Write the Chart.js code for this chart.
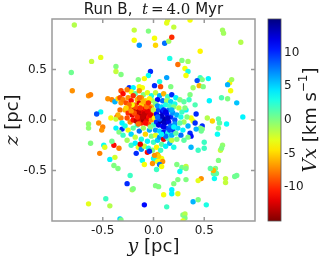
<!DOCTYPE html>
<html>
<head>
<meta charset="utf-8">
<script src="https://cdn.jsdelivr.net/npm/chart.js@4.4.1/dist/chart.umd.min.js"></script>
<style>
  html, body { margin: 0; padding: 0; background: #fff; }
  #wrap { position: relative; width: 327px; height: 263px; }
  #main { position: absolute; left: 0; top: 0; }
  #cbar { position: absolute; left: 255px; top: 0; }
</style>
</head>
<body>
<div id="wrap">
  <canvas id="main" width="327" height="263"></canvas>
  <canvas id="cbar" width="72" height="263"></canvas>
</div>
<script>
// star positions [y (pc), z (pc), Vx (km/s)]
const outerTop = [
  [-0.78,0.94,-1.5],[0.13,0.96,-3],[0.20,0.92,-2],[0.14,0.99,-3],[-0.19,0.89,-2],[-0.05,0.88,0],
  [-0.19,0.79,-3.5],[-0.14,0.74,7],[0.01,0.81,-3.5],[0.02,0.74,-5],[0.11,0.76,8],[0.15,0.78,-1],
  [0.18,0.82,-10],[0.36,0.99,-3.5],[0.68,0.89,-1],[0.69,0.86,-1],[0.86,0.77,-1.5],[0.46,0.68,-4],
  [0.16,0.61,3],[0.28,0.59,0],[0.24,0.55,-8],[0.31,0.51,-3.5],[0.34,0.58,-1],[0.34,0.48,3],
  [0.32,0.44,-3.5],[-0.61,0.58,-2],[-0.52,0.62,-3],[-0.37,0.53,0],[-0.37,0.48,-2],[-0.32,0.45,0],
  [-0.81,0.47,0.5],[-0.03,0.48,10],[-0.05,0.44,3.5],[-0.09,0.41,-3.5],[-0.15,0.40,0],[0.06,0.38,3],
  [0.13,0.42,6.5],[0.46,0.42,2],[0.48,0.40,0],[0.54,0.41,4],[0.43,0.39,9],[0.75,0.37,-4],
  [0.77,0.40,-1],[0.73,0.35,6]
];
const outerRight = [
  [0.45,0.34,-6],[0.39,0.32,-1],[0.49,0.33,0],[0.76,0.29,-3.5],[0.36,0.25,0],[0.35,0.20,2],
  [0.55,0.19,4],[0.67,0.22,1.5],[0.73,0.21,0],[0.82,0.17,5.5],[0.41,0.15,1.5],[0.88,0.03,4],
  [0.42,0.06,10],[0.39,-0.01,-3],[0.37,0.02,-3.5],[0.53,0.02,-1.5],[0.58,-0.01,-5],[0.64,0.01,1],
  [0.65,-0.03,1],[0.72,-0.04,3.5],[0.41,-0.03,10],[0.48,-0.06,10],[0.46,-0.08,0],[0.48,-0.09,0],
  [0.47,-0.11,0.5],[0.42,-0.09,6],[0.36,-0.13,10],[0.37,-0.16,11],[0.64,-0.08,0],[0.63,-0.14,3.5],
  [0.50,-0.22,2],[0.68,-0.25,-0.5],[0.37,-0.27,6],[0.50,-0.28,2],[0.66,-0.30,-2],[0.44,-0.30,2],
  [0.67,-0.28,0]
];
const outerLeft = [
  [-0.80,0.29,-7],[-0.64,0.24,-7],[-0.62,0.25,-7.5],[-0.45,0.21,-7],[-0.41,0.20,-7.5],[-0.38,0.18,6],
  [-0.35,0.21,-5],[-0.52,0.08,3.5],[-0.56,0.06,9],[-0.64,-0.04,-0.5],[-0.64,-0.08,-0.5],[-0.54,-0.03,-7],
  [-0.50,-0.07,-7.5],[-0.51,-0.10,-7],[-0.42,0.02,-3.5],[-0.36,0.03,-11],[-0.37,0.01,-2],[-0.37,-0.08,4],
  [-0.62,-0.23,0],[-0.49,-0.25,3.5],[-0.48,-0.27,-3],[-0.39,-0.25,-11],[-0.41,-0.21,0.5],[-0.53,-0.33,-7.5]
];
const outerBottom = [
  [-0.43,-0.39,4],[-0.38,-0.37,-2.5],[-0.39,-0.45,0],[-0.35,-0.48,0],[-0.47,-0.78,2],[-0.64,-0.83,-3],
  [-0.43,-0.85,-1.5],[-0.33,-0.98,5],[-0.32,-0.99,0],[0.00,-0.38,3.5],[0.02,-0.39,3],[0.08,-0.38,-3.5],
  [0.09,-0.41,-7],[0.04,-0.41,-3.5],[-0.01,-0.43,-7],[0.06,-0.44,8],[0.08,-0.46,-3.5],[0.03,-0.49,2],
  [-0.11,-0.40,3.5],[-0.09,-0.44,-3.5],[-0.23,-0.55,2],[-0.26,-0.63,10],[-0.21,-0.69,-1],[-0.20,-0.68,0],
  [0.02,-0.65,0],[0.05,-0.66,0],[-0.09,-0.84,11],[0.13,-0.86,2],[0.10,-0.74,-3.5],[0.18,-0.69,4],
  [0.18,-0.73,4],[0.24,-0.73,-3],[0.20,-0.63,0],[0.24,-0.59,0],[0.23,-0.44,0],[0.28,-0.47,0.5],
  [0.32,-0.46,-2],[0.26,-0.51,3.5],[0.29,-0.94,0],[0.31,-0.93,-1.5],[0.39,-0.81,6],[0.44,-0.79,0],
  [0.52,-0.84,3],[0.61,-0.48,0],[0.59,-0.53,1],[0.62,-0.53,1],[0.59,-0.50,-6],[0.47,-0.58,-7],
  [0.44,-0.60,-3],[0.56,-0.48,1],[0.60,-0.58,3.5],[0.71,-0.62,-2],[0.71,-0.58,-2],[0.80,-0.56,0.5],
  [0.82,-0.55,0.5],[0.64,-0.40,0],[0.32,-0.59,0],[0.32,-0.48,0],[0.31,-0.97,0],[0.29,-1.0,-3]
];
const innerRing = [
  [-0.24,0.32,10],[-0.20,0.32,4],[-0.14,0.33,-3.5],[-0.11,0.32,-3.5],[0.01,0.34,10],[0.07,0.33,-9],
  [0.17,0.33,0],[-0.32,0.29,-9],[-0.32,0.17,-7],[-0.32,0.02,-7.5],[-0.31,-0.09,10],[-0.34,-0.28,-7.5],
  [0.34,-0.06,6],[0.32,0.10,4],[0.33,0.03,0],[0.34,-0.17,0],[-0.17,-0.33,10],[-0.06,-0.32,-11],
  [0.04,-0.34,-6],[0.05,-0.36,-5],[0.01,-0.35,-7],
  [-0.22,0.28,-3.5],[-0.18,0.26,1],[-0.14,0.29,-7],[-0.10,0.25,0],[-0.06,0.27,-3],[-0.02,0.24,3],
  [0.02,0.27,-2],[0.06,0.24,6],[0.10,0.26,-6],[0.14,0.23,2],[0.18,0.25,10],[0.22,0.22,4],
  [0.26,0.20,0],[0.30,0.18,1],[-0.30,0.26,-11],[-0.26,0.30,-7.5],[0.04,0.20,11],[0.09,0.19,8],
  [0.13,0.19,-1],[0.17,0.18,5],[0.21,0.16,3],[-0.01,0.19,-1],
  [-0.28,-0.06,3],[-0.25,-0.10,-3.5],[-0.22,-0.14,5],[-0.20,-0.08,1],[-0.18,-0.17,-2],[-0.16,-0.05,2],
  [-0.14,-0.11,8],[-0.12,-0.19,3],[-0.10,-0.08,-1],[-0.08,-0.14,-5],[-0.06,-0.21,4],[-0.04,-0.10,6],
  [-0.02,-0.16,0],[0.00,-0.22,2],[0.02,-0.15,-3],[0.04,-0.20,5],[0.06,-0.17,7],[0.08,-0.24,1],
  [0.10,-0.19,-12],[0.12,-0.26,4],[0.14,-0.18,2],[0.16,-0.23,6],[0.18,-0.20,-2],[0.20,-0.27,3],
  [0.23,-0.19,0],[-0.26,-0.20,-1],[-0.22,-0.25,2],[-0.18,-0.23,4],[-0.15,-0.27,-3],[-0.12,-0.29,7],
  [-0.09,-0.26,-2],[-0.05,-0.28,3],[-0.01,-0.30,0],[0.03,-0.27,-4],[0.07,-0.30,2],[-0.13,-0.24,-12],
  [-0.04,-0.31,10],
  [0.28,0.08,2],[0.30,-0.02,-1],[0.29,-0.10,4],[0.27,-0.15,8],[0.31,0.12,0],[0.30,-0.20,1],
  [-0.33,0.10,-8],[-0.35,0.05,-6],[-0.31,-0.03,4],[-0.34,-0.12,0],[-0.30,-0.15,2],[-0.33,0.22,-9]
];
const redCore = [
  [-0.30,0.20,-7.5],[-0.27,0.17,-9],[-0.25,0.22,-7],[-0.22,0.19,-11],[-0.20,0.24,-10],[-0.18,0.15,-8],
  [-0.16,0.20,-6],[-0.14,0.17,-12],[-0.12,0.22,-7],[-0.10,0.14,-9],[-0.08,0.19,-5],[-0.06,0.16,-8],
  [-0.04,0.21,-4],[-0.02,0.13,-6],[-0.28,0.10,-6],[-0.25,0.07,-10],[-0.23,0.12,-8],[-0.21,0.05,-12],
  [-0.19,0.10,-13],[-0.17,0.06,-11],[-0.15,0.11,-9],[-0.13,0.04,-14],[-0.11,0.08,-12],[-0.09,0.02,-14],
  [-0.07,0.07,-13],[-0.05,0.03,-11],[-0.03,0.09,-10],[-0.01,0.05,-8],[-0.26,0.02,-9],[-0.23,-0.02,-7],
  [-0.20,0.00,-11],[-0.17,-0.01,-13],[-0.14,0.01,-12],[-0.12,-0.03,-10],[-0.10,0.00,-14],[-0.07,-0.01,-12],
  [-0.05,-0.04,-9],[-0.02,0.00,-7],[-0.18,0.13,-9],[-0.08,0.11,-11],[-0.12,0.15,-5],[-0.21,0.15,-3.5],
  [-0.15,0.08,-13],[-0.04,0.12,-9],[-0.24,0.15,-8],
  [-0.13,0.12,-10],[-0.09,0.06,-13],[-0.06,0.09,-12],[-0.11,0.03,-13],[-0.16,0.03,-10],[-0.19,0.07,-9],
  [-0.07,0.13,-8],[-0.03,0.05,-12],[-0.08,-0.03,-11],[-0.15,-0.04,-8],[-0.22,0.09,-7],[-0.10,0.18,-6],
  [-0.05,0.17,-10],[-0.14,0.22,-8],[-0.27,0.12,-5],
  [0.00,0.10,-2],[0.02,0.16,0],[0.01,0.02,-4],[0.00,-0.05,2],[-0.03,-0.07,0]
];
const blueCore = [
  [0.03,0.06,11],[0.05,0.10,9],[0.07,0.03,13],[0.09,0.08,12],[0.11,0.01,14],[0.13,0.06,11],
  [0.15,0.10,8],[0.17,0.03,10],[0.19,0.07,7],[0.21,0.00,9],[0.23,0.05,6],[0.03,-0.02,10],
  [0.05,-0.05,12],[0.07,-0.01,14],[0.09,-0.06,11],[0.11,-0.03,13],[0.13,-0.08,9],[0.15,-0.02,12],
  [0.17,-0.06,8],[0.19,-0.10,10],[0.21,-0.04,7],[0.24,-0.08,5],[0.04,0.14,7],[0.08,0.13,5],
  [0.12,0.15,3],[0.16,0.14,2],[0.20,0.13,0],[0.25,0.12,-2],[0.27,0.03,3],[0.26,-0.03,1],
  [0.10,0.10,10],[0.06,0.01,9],[0.02,-0.10,7],[0.06,-0.11,5],[0.10,-0.12,11],[0.14,-0.13,3],
  [0.18,-0.15,6],[0.22,-0.13,1],
  [0.08,0.04,13],[0.12,0.08,12],[0.14,0.02,13],[0.10,-0.07,12],[0.16,-0.10,9],[0.04,0.03,8],
  [0.18,0.10,6],[0.20,-0.07,4],[0.12,-0.16,8],[0.08,-0.14,4]
];

const xTicks = [-0.5, 0.0, 0.5];
const zTicks = [-0.5, 0.0, 0.5];
const cbTicks = [-10, -5, 0, 5, 10];
const vMin = -15, vMax = 15;

const SANS = '"DejaVu Sans", sans-serif';
const MATH = '"DejaVu Serif", serif';

// reversed jet: blue for positive Vx, red for negative
function jet(v) {
  const t = Math.min(1, Math.max(0, (vMax - v) / (vMax - vMin)));
  const c = a => Math.round(255 * Math.min(1, Math.max(0, 1.5 - Math.abs(4 * t - a))));
  return 'rgb(' + c(3) + ',' + c(2) + ',' + c(1) + ')';
}

// draw a line of text made of runs with different fonts, centred on (x, y)
function drawRuns(ctx, runs, x, y, angle) {
  ctx.save();
  ctx.translate(x, y);
  ctx.rotate(angle || 0);
  ctx.textBaseline = 'middle';
  ctx.textAlign = 'left';
  ctx.fillStyle = '#1a1a1a';
  let total = 0;
  runs.forEach(r => { ctx.font = r.font; r.w = ctx.measureText(r.text).width; total += r.w; });
  let cx = -total / 2;
  runs.forEach(r => {
    ctx.font = r.font;
    ctx.fillText(r.text, cx, r.dy || 0);
    cx += r.w;
  });
  ctx.restore();
}

const framePlugin = {
  id: 'frame',
  afterDatasetsDraw(chart) {
    const { ctx, chartArea: a, scales } = chart;
    ctx.save();
    ctx.strokeStyle = '#9a9a9a';
    ctx.lineWidth = 1.5;
    ctx.beginPath();
    xTicks.forEach(v => {
      const px = scales.x.getPixelForValue(v);
      ctx.moveTo(px, a.top); ctx.lineTo(px, a.top + 4);
      ctx.moveTo(px, a.bottom); ctx.lineTo(px, a.bottom - 4);
    });
    zTicks.forEach(v => {
      const py = scales.y.getPixelForValue(v);
      ctx.moveTo(a.left, py); ctx.lineTo(a.left + 4, py);
      ctx.moveTo(a.right, py); ctx.lineTo(a.right - 4, py);
    });
    ctx.stroke();
    ctx.strokeRect(a.left, a.top, a.right - a.left, a.bottom - a.top);
    ctx.restore();
  },
  afterDraw(chart) {
    const { ctx, chartArea: a } = chart;
    drawRuns(ctx, [
      { text: 'Run B,  ', font: '15px ' + SANS },
      { text: 't', font: 'italic 15px ' + MATH },
      { text: '\u2009=\u20094.0', font: '15px ' + MATH },
      { text: ' Myr', font: '15px ' + SANS }
    ], (a.left + a.right) / 2, 10);
    drawRuns(ctx, [
      { text: 'y', font: 'italic 19px ' + MATH },
      { text: ' [pc]', font: '18px ' + SANS }
    ], (a.left + a.right) / 2, 247);
    drawRuns(ctx, [
      { text: 'z', font: 'italic 19px ' + MATH },
      { text: ' [pc]', font: '18px ' + SANS }
    ], 13, (a.top + a.bottom) / 2, -Math.PI / 2);
  }
};

const stars = [].concat(outerTop, outerRight, outerLeft, outerBottom, innerRing, redCore, blueCore);

new Chart(document.getElementById('main'), {
  type: 'scatter',
  data: {
    datasets: [{
      data: stars.map(s => ({ x: s[0], y: s[1], v: s[2] })),
      backgroundColor: c => jet(c.raw ? c.raw.v : 0),
      pointRadius: 2.7,
      pointHoverRadius: 2.7,
      borderWidth: 0,
      clip: 0
    }]
  },
  options: {
    responsive: false,
    animation: false,
    events: [],
    layout: { padding: { top: 19, right: 72, left: 0, bottom: 0 } },
    plugins: { legend: { display: false }, tooltip: { enabled: false } },
    scales: {
      x: {
        min: -1, max: 1,
        grid: { display: false, drawTicks: false },
        border: { display: false },
        ticks: { padding: 3, color: '#1a1a1a', font: { size: 12, family: SANS }, callback: v => Number(v).toFixed(1) },
        afterBuildTicks: s => { s.ticks = xTicks.map(v => ({ value: v })); },
        afterFit: s => { s.height = 42; }
      },
      y: {
        min: -1, max: 1,
        grid: { display: false, drawTicks: false },
        border: { display: false },
        ticks: { padding: 5, color: '#1a1a1a', font: { size: 12, family: SANS }, callback: v => Number(v).toFixed(1) },
        afterBuildTicks: s => { s.ticks = zTicks.map(v => ({ value: v })); },
        afterFit: s => { s.width = 52; }
      }
    }
  },
  plugins: [framePlugin]
});

const cbarPlugin = {
  id: 'cbarFill',
  beforeDatasetsDraw(chart) {
    const { ctx, chartArea: a } = chart;
    const g = ctx.createLinearGradient(0, a.top, 0, a.bottom);
    for (let i = 0; i <= 20; i++) {
      g.addColorStop(i / 20, jet(vMax - (vMax - vMin) * i / 20));
    }
    ctx.save();
    ctx.fillStyle = g;
    ctx.fillRect(a.left, a.top, a.right - a.left, a.bottom - a.top);
    ctx.strokeStyle = '#555';
    ctx.lineWidth = 0.8;
    ctx.strokeRect(a.left, a.top, a.right - a.left, a.bottom - a.top);
    ctx.restore();
  },
  afterDraw(chart) {
    const { ctx, chartArea: a } = chart;
    drawRuns(ctx, [
      { text: 'V', font: 'italic 19px ' + MATH },
      { text: 'x', font: 'italic 19px ' + MATH },
      { text: ' [km s', font: '18px ' + SANS },
      { text: '\u22121', font: '12px ' + SANS, dy: -7 },
      { text: ']', font: '18px ' + SANS }
    ], 56, (a.top + a.bottom) / 2, -Math.PI / 2);
  }
};

new Chart(document.getElementById('cbar'), {
  type: 'scatter',
  data: { datasets: [] },
  options: {
    responsive: false,
    animation: false,
    events: [],
    layout: { padding: { left: 13, top: 19, bottom: 42, right: 0 } },
    plugins: { legend: { display: false }, tooltip: { enabled: false } },
    scales: {
      x: { display: false, min: 0, max: 1 },
      y: {
        position: 'right',
        min: vMin, max: vMax,
        grid: { display: false, drawTicks: false },
        border: { display: false },
        ticks: { padding: 3, color: '#1a1a1a', font: { size: 12, family: SANS } },
        afterBuildTicks: s => { s.ticks = cbTicks.map(v => ({ value: v })); },
        afterFit: s => { s.width = 46; }
      }
    }
  },
  plugins: [cbarPlugin]
});
</script>
</body>
</html>
